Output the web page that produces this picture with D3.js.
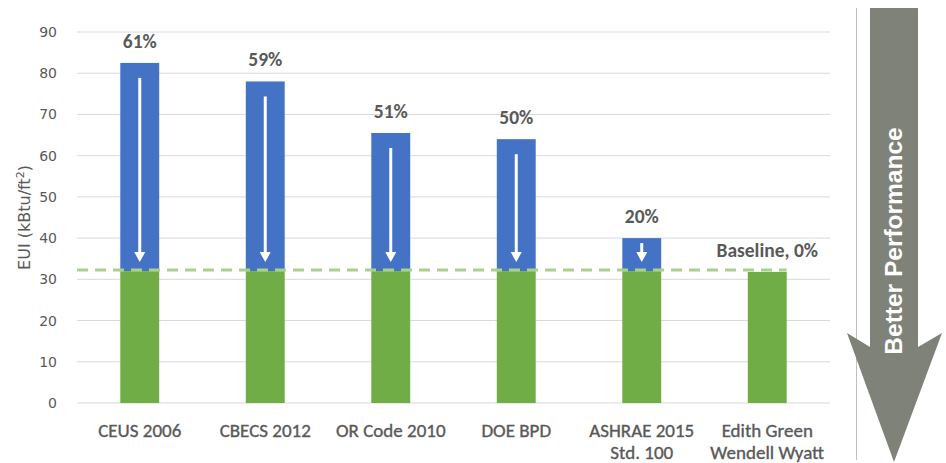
<!DOCTYPE html>
<html>
<head>
<meta charset="utf-8">
<script src="https://cdn.jsdelivr.net/npm/d3@7"></script>
<style>
  body { margin: 0; background: #fff; }
  svg text { font-family: Carlito, "Liberation Sans Narrow", "Open Sans", sans-serif; fill: #595959; }
</style>
</head>
<body>
<div id="chart"></div>
<script>
// chart data
var categories = ["CEUS 2006", "CBECS 2012", "OR Code 2010", "DOE BPD", "ASHRAE 2015\nStd. 100", "Edith Green\nWendell Wyatt"];
var baseEui = [32, 32, 32, 32, 32, 31.8];
var totalEui = [82.5, 78, 65.5, 64, 40, 31.8];
var pctLabels = ["61%", "59%", "51%", "50%", "20%", "Baseline, 0%"];
var baseline = 32;
var yTicks = [0, 10, 20, 30, 40, 50, 60, 70, 80, 90];

var W = 946, H = 463;
var margin = { top: 32, left: 77, right: 116, bottom: 60 };
var plotW = W - margin.left - margin.right,
    plotH = H - margin.top - margin.bottom;

var svg = d3.select("#chart").append("svg")
    .attr("width", W)
    .attr("height", H);

var x = d3.scaleBand().domain(categories).range([0, plotW]).paddingInner(0.69).paddingOuter(0.345);
var y = d3.scaleLinear().domain([0, 90]).range([plotH, 0]);

var g = svg.append("g").attr("transform", "translate(" + margin.left + "," + margin.top + ")");

// gridlines
g.selectAll(".grid").data(yTicks).enter().append("line")
    .attr("x1", 0).attr("x2", plotW)
    .attr("y1", function (d) { return y(d); })
    .attr("y2", function (d) { return y(d); })
    .attr("stroke", "#d9d9d9").attr("stroke-width", 1);

// y tick labels
g.selectAll(".ytick").data(yTicks).enter().append("text")
    .attr("x", -20)
    .attr("y", function (d) { return y(d); })
    .attr("dy", "0.36em")
    .attr("text-anchor", "end")
    .style("font-family", "'DejaVu Sans', sans-serif")
    .style("font-size", "14px")
    .text(function (d) { return d; });

// y axis title
var yt = svg.append("text")
    .attr("transform", "translate(30," + (margin.top + y(45)) + ") rotate(-90)")
    .attr("text-anchor", "middle")
    .style("font-family", "'DejaVu Sans', sans-serif")
    .style("font-size", "16px");
yt.append("tspan").text("EUI (kBtu/ft");
yt.append("tspan").attr("dy", "-6").style("font-size", "11px").text("2");
yt.append("tspan").attr("dy", "6").text(")");

var idx = d3.range(categories.length);

// blue part (savings above baseline)
g.selectAll(".blue").data(idx).enter().append("rect")
    .attr("x", function (i) { return x(categories[i]); })
    .attr("width", x.bandwidth())
    .attr("y", function (i) { return y(totalEui[i]); })
    .attr("height", function (i) { return Math.max(0, y(baseEui[i]) - y(totalEui[i])); })
    .attr("fill", "#4472C4");

// green part
g.selectAll(".green").data(idx).enter().append("rect")
    .attr("x", function (i) { return x(categories[i]); })
    .attr("width", x.bandwidth())
    .attr("y", function (i) { return y(baseEui[i]); })
    .attr("height", function (i) { return plotH - y(baseEui[i]); })
    .attr("fill", "#70AD47");

// white arrows inside blue bars
idx.filter(function (i) { return totalEui[i] > baseEui[i]; }).forEach(function (i) {
    var cx = x(categories[i]) + x.bandwidth() / 2;
    var yTop = y(totalEui[i]) + (totalEui[i] - baseEui[i] > 20 ? 15 : 5);
    var yTip = y(baseEui[i]) - 9;
    g.append("line")
        .attr("x1", cx).attr("x2", cx)
        .attr("y1", yTop).attr("y2", yTip - 8)
        .attr("stroke", "#fff").attr("stroke-width", 3);
    g.append("path")
        .attr("d", "M" + (cx - 5.5) + "," + (yTip - 10) + "L" + (cx + 5.5) + "," + (yTip - 10) + "L" + cx + "," + yTip + "Z")
        .attr("fill", "#fff");
});

// baseline dashed line
g.append("line")
    .attr("x1", 0)
    .attr("x2", x(categories[5]) + x.bandwidth())
    .attr("y1", y(baseline) - 1).attr("y2", y(baseline) - 1)
    .attr("stroke", "#A9D18E").attr("stroke-width", 3)
    .attr("stroke-dasharray", "11,7");

// percentage labels
g.selectAll(".pct").data(idx).enter().append("text")
    .attr("x", function (i) { return x(categories[i]) + x.bandwidth() / 2; })
    .attr("y", function (i) { return y(totalEui[i]) - 15; })
    .attr("text-anchor", "middle")
    .style("font-size", "19.5px")
    .style("font-weight", "bold")
    .text(function (i) { return pctLabels[i]; });

// category labels
g.selectAll(".cat").data(idx).enter().append("text")
    .attr("x", function (i) { return x(categories[i]) + x.bandwidth() / 2; })
    .attr("y", plotH + 34)
    .attr("text-anchor", "middle")
    .style("font-size", "19px")
    .style("stroke", "#595959")
    .style("stroke-width", "0.35px")
    .each(function (i) {
        var t = d3.select(this);
        categories[i].split("\n").forEach(function (line, k) {
            t.append("tspan")
                .attr("x", x(categories[i]) + x.bandwidth() / 2)
                .attr("dy", k === 0 ? 0 : 22)
                .text(line);
        });
    });

// separator and "Better Performance" arrow
svg.append("line")
    .attr("x1", 856.5).attr("x2", 856.5)
    .attr("y1", 8).attr("y2", 460)
    .attr("stroke", "#bfbfbf").attr("stroke-width", 1);

svg.append("path")
    .attr("d", "M870,8L918,8L918,347L942,333L894,462L847,333L870,347Z")
    .attr("fill", "#7F8279");

svg.append("text")
    .attr("transform", "translate(902,241) rotate(-90)")
    .attr("text-anchor", "middle")
    .style("font-family", "'Liberation Sans', Arial, sans-serif")
    .style("font-size", "24.5px")
    .style("font-weight", "bold")
    .style("fill", "#fff")
    .text("Better Performance");
</script>
</body>
</html>
